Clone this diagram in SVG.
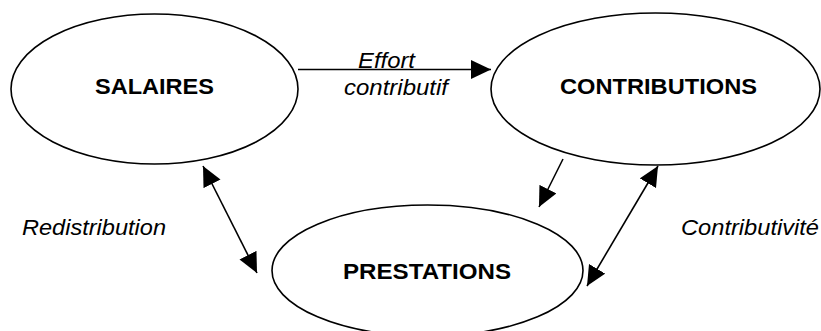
<svg xmlns="http://www.w3.org/2000/svg" width="821" height="331" viewBox="0 0 821 331">
<style>
.node ellipse{fill:#fff;stroke:#000;stroke-width:1.6}
.lbl{font-family:"Liberation Sans",Arial,sans-serif;font-weight:bold;font-size:22px;fill:#000}
.it{font-family:"Liberation Sans",Arial,sans-serif;font-style:italic;font-size:22px;fill:#000}
.conn line{stroke:#000;stroke-width:1.6;fill:none}
</style>
<defs>
<marker id="ah" markerUnits="userSpaceOnUse" markerWidth="21" markerHeight="20" viewBox="0 0 21 20" refX="20" refY="9.5" orient="auto-start-reverse">
<path d="M0,0 L20,9.5 L0,19 z" fill="#000"/>
</marker>
</defs>
<rect width="821" height="331" fill="#fff"/>
<g id="salaires" class="node">
<ellipse cx="154.5" cy="89" rx="143.5" ry="75"/>
<text class="lbl" x="95" y="94" textLength="119" lengthAdjust="spacingAndGlyphs">SALAIRES</text>
</g>
<g id="contributions" class="node">
<ellipse cx="655.5" cy="89" rx="164.5" ry="76"/>
<text class="lbl" x="560" y="94" textLength="197" lengthAdjust="spacingAndGlyphs">CONTRIBUTIONS</text>
</g>
<g id="prestations" class="node">
<ellipse cx="427.5" cy="270.5" rx="155.5" ry="65.5"/>
<text class="lbl" x="343" y="279" textLength="168" lengthAdjust="spacingAndGlyphs">PRESTATIONS</text>
</g>
<g id="connectors" class="conn">
<line x1="298" y1="69.5" x2="491" y2="69.5" marker-end="url(#ah)"/>
<line x1="563" y1="159" x2="539" y2="207" marker-end="url(#ah)"/>
<line x1="203" y1="166" x2="257" y2="273" marker-start="url(#ah)" marker-end="url(#ah)"/>
<line x1="658" y1="166" x2="587" y2="286" marker-start="url(#ah)" marker-end="url(#ah)"/>
</g>
<g id="labels">
<text class="it" x="358" y="68" textLength="57" lengthAdjust="spacingAndGlyphs">Effort</text>
<text class="it" x="344" y="95" textLength="104" lengthAdjust="spacingAndGlyphs">contributif</text>
<text class="it" x="22" y="235" textLength="144" lengthAdjust="spacingAndGlyphs">Redistribution</text>
<text class="it" x="681" y="235" textLength="138" lengthAdjust="spacingAndGlyphs">Contributivité</text>
</g>
</svg>
